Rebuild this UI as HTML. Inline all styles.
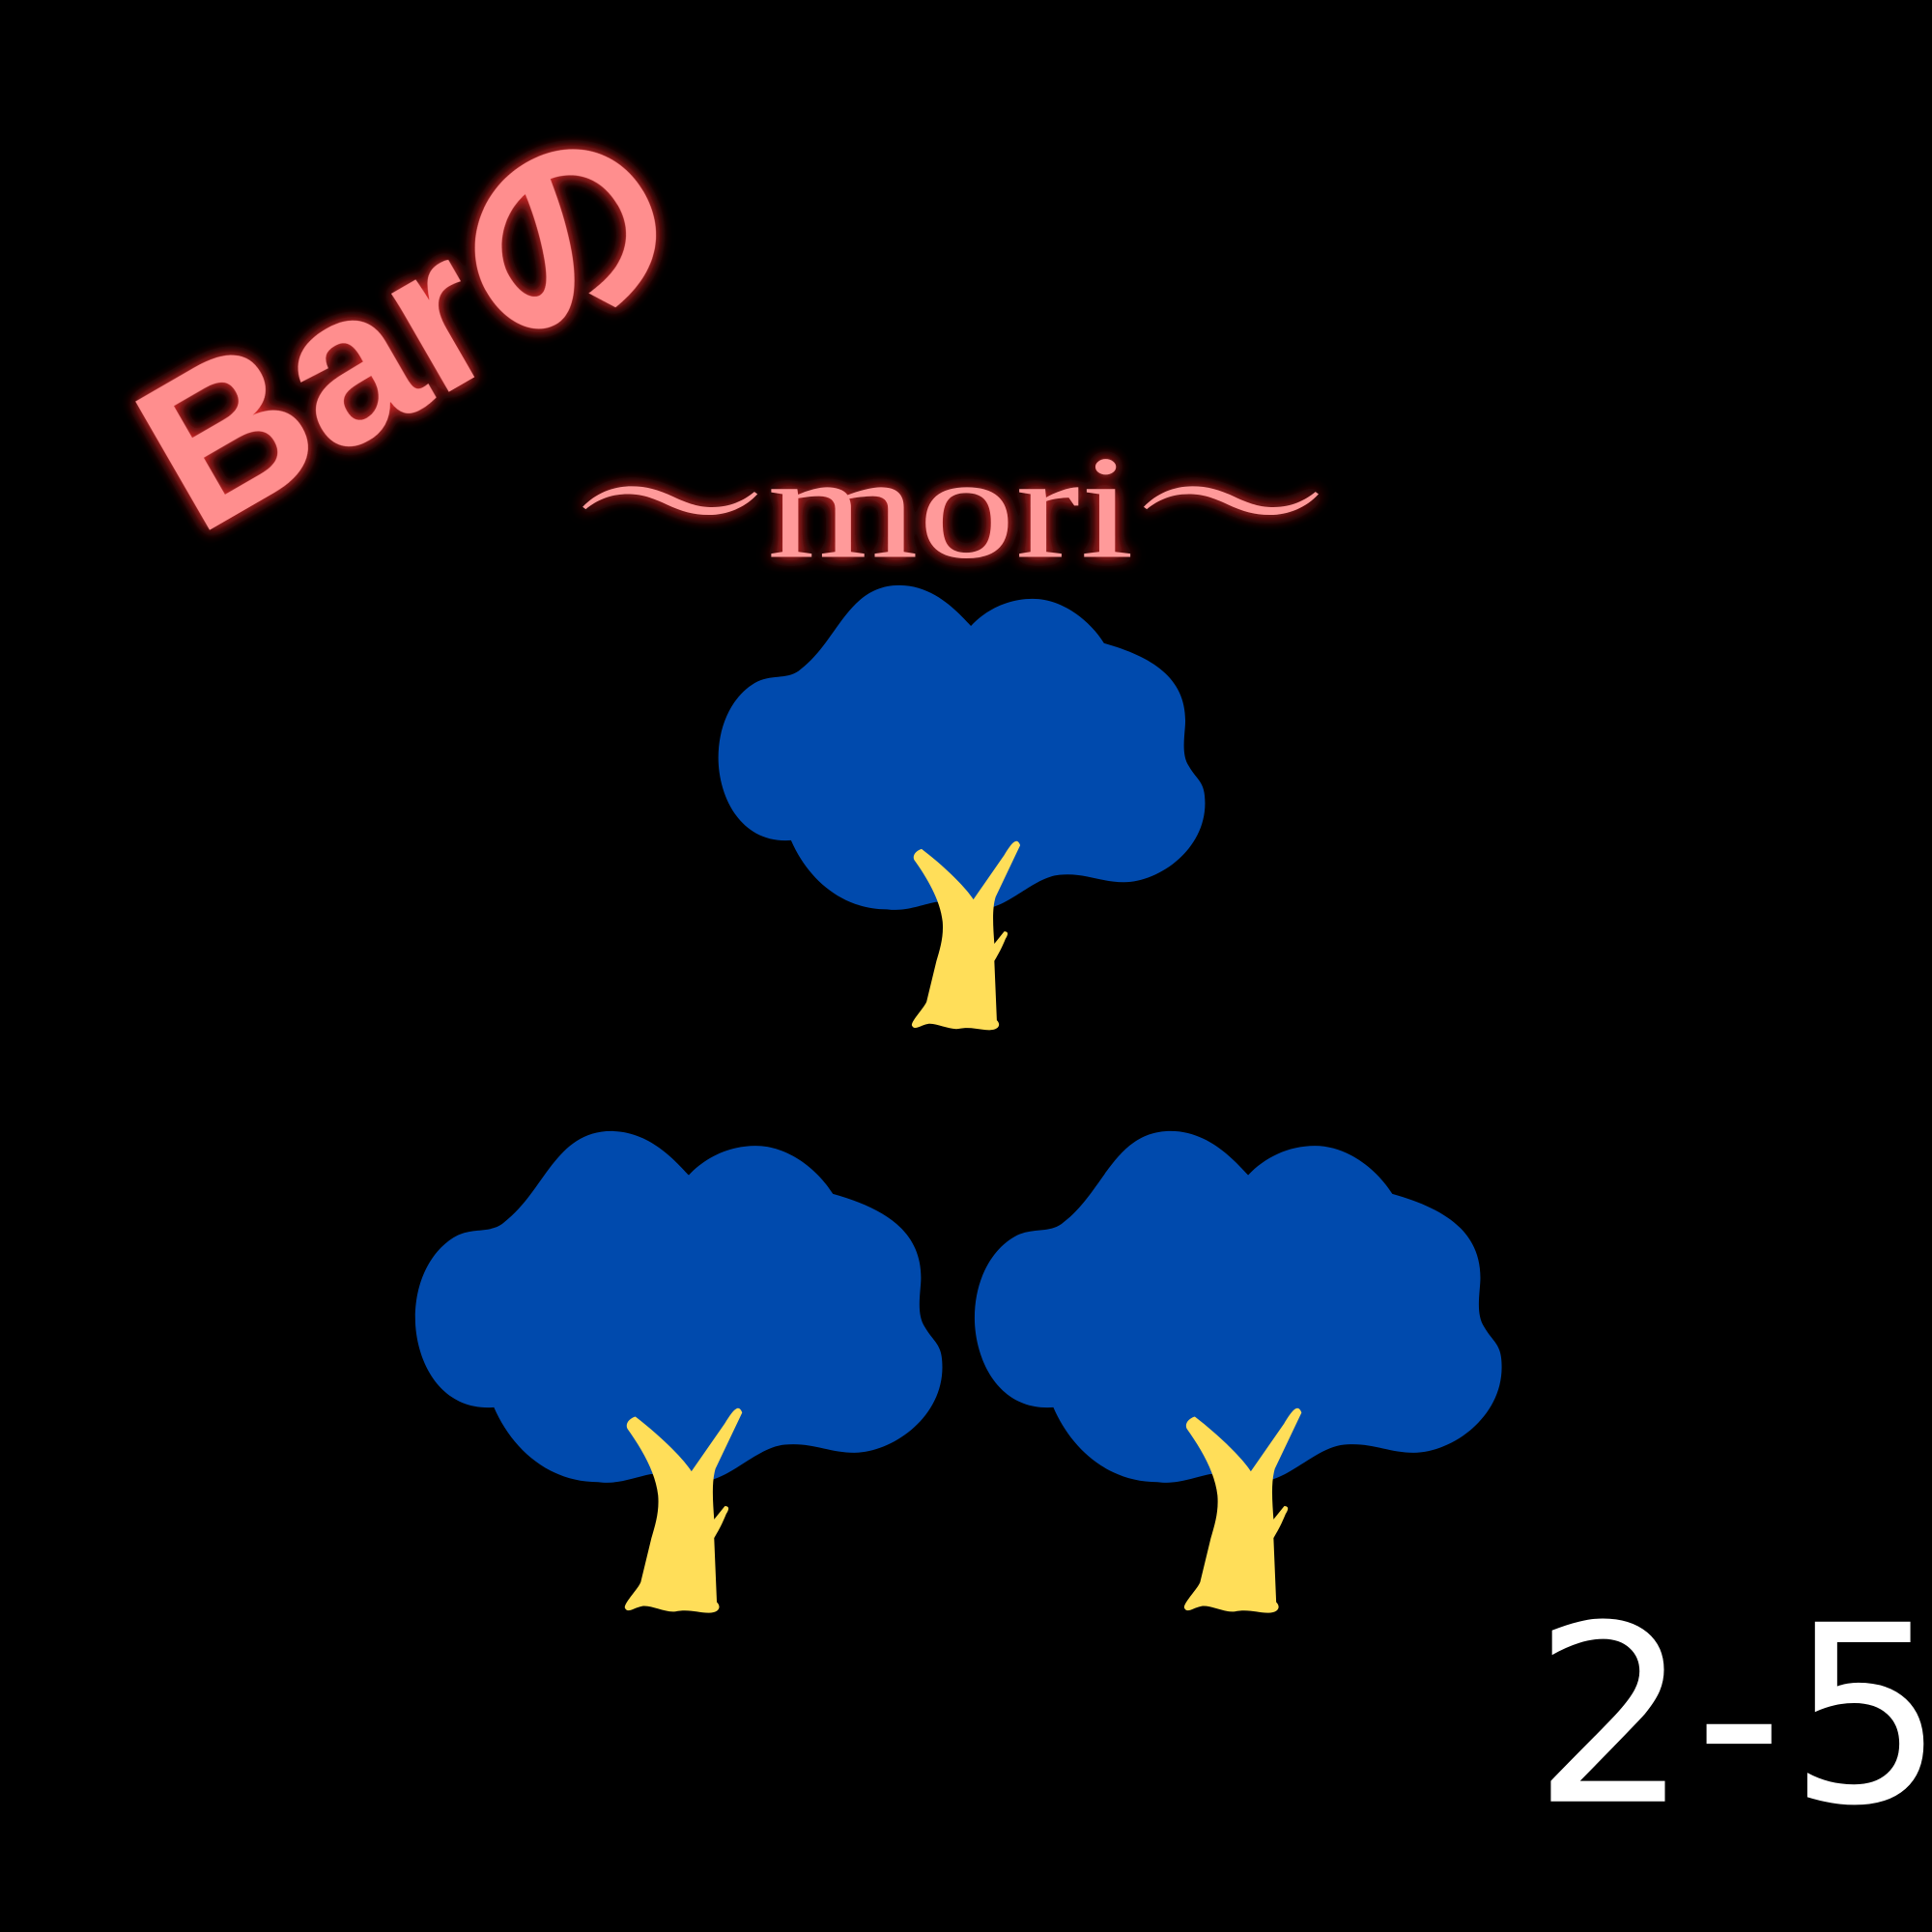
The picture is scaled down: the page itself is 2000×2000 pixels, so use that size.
<!DOCTYPE html>
<html><head><meta charset="utf-8"><style>
html,body{margin:0;padding:0;background:#000;}
svg{display:block}
</style></head><body>
<svg width="2000" height="2000" viewBox="0 0 1568 1568" xmlns="http://www.w3.org/2000/svg">
<defs>
<filter id="glow" x="-30%" y="-30%" width="160%" height="160%">
<feGaussianBlur in="SourceAlpha" stdDeviation="6" result="b"/>
<feFlood flood-color="#ff3030" flood-opacity="0.7"/>
<feComposite in2="b" operator="in" result="g"/>
<feMerge><feMergeNode in="g"/><feMergeNode in="g"/><feMergeNode in="SourceGraphic"/></feMerge>
</filter>
<g id="tree">
<path fill="#004AAD" d="M 642 682 C 600 685 583 645 583 615 C 583 585 597 562 615 553 C 628 547 640 552 650 543 C 680 520 688 475 730 475 C 760 475 780 500 788 508 C 800 495 818 486 838 486 C 862 486 884 503 896 522 C 935 533 962 550 962 585 C 962 595 958 612 965 622 C 972 634 978 634 978 652 C 978 690 940 716 912 716 C 893 716 880 708 860 710 C 838 712 818 738 795 738 L 760 732 C 745 735 735 740 720 738 C 682 738 655 712 642 682 Z"/>
<path fill="#FFDE59" d="M 748 689 C 770 706 785 722 790 730 L 815 694 C 820 686 825 678 828 686 L 808 728 C 805 738 806 752 807 766 L 815 756 C 819 756 818 759 816 762 C 812 772 808 778 807 780 L 809 828 C 813 832 810 836 803 836 C 795 836 788 833 778 835 C 770 836 760 830 753 831 C 747 832 742 837 740 832 C 740 828 750 818 752 813 L 760 780 C 763 770 766 760 765 748 C 763 730 752 712 742 698 C 740 694 744 690 748 689 Z"/>
</g>
</defs>
<rect width="1568" height="1568" fill="#000"/>
<text filter="url(#glow)" transform="translate(160,436) rotate(-30)" font-family="'Liberation Sans','Noto Sans CJK JP',sans-serif" font-weight="bold" font-size="175" fill="#FF8E8E">Barの</text>
<text filter="url(#glow)" x="465" y="452" textLength="613" lengthAdjust="spacingAndGlyphs" font-family="'Liberation Serif','Noto Serif CJK JP',serif" font-size="120" fill="#FF9A9A">～mori～</text>
<g><use href="#tree"/></g>
<g transform="translate(337,918) scale(1.083) translate(-583,-475)"><use href="#tree"/></g>
<g transform="translate(791,918) scale(1.083) translate(-583,-475)"><use href="#tree"/></g>
<text x="1244" y="1462" font-family="'DejaVu Sans',sans-serif" font-size="200" letter-spacing="4" fill="#fff">2-5</text>
</svg>
</body></html>
